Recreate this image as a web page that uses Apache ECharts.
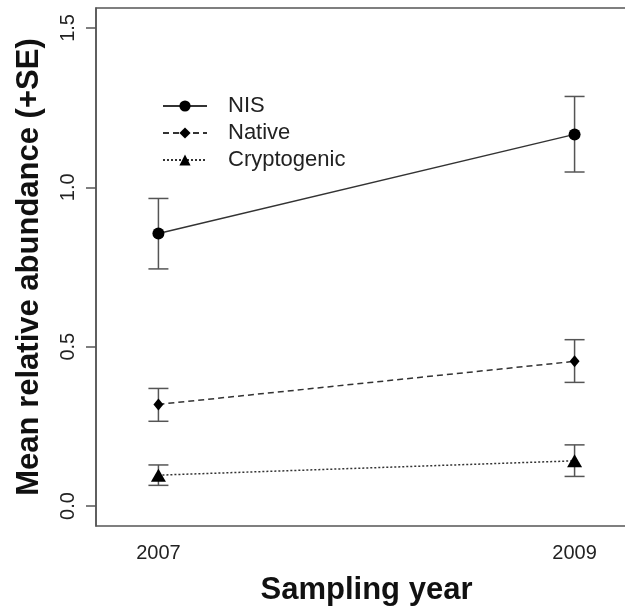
<!DOCTYPE html>
<html>
<head>
<meta charset="utf-8">
<script src="https://cdn.jsdelivr.net/npm/echarts@6/dist/echarts.min.js"></script>
<style>
html,body{margin:0;padding:0;background:#fff;overflow:hidden;width:625px;height:611px;}
#chart{width:645px;height:611px;}
</style>
</head>
<body>
<div id="chart"></div>
<script>
// Data
var years = [2007, 2009];
var xTickLabels = [2007, 2009];
var yTickValues = [0, 0.5, 1.0, 1.5];

var nisMean = [0.855, 1.166];
var nisLow = [0.744, 1.048];
var nisHigh = [0.965, 1.285];

var nativeMean = [0.319, 0.454];
var nativeLow = [0.266, 0.388];
var nativeHigh = [0.369, 0.522];

var cryptoMean = [0.097, 0.142];
var cryptoLow = [0.065, 0.093];
var cryptoHigh = [0.129, 0.192];

var FONT = 'Liberation Sans, Arial, Helvetica, sans-serif';
var LINE = '#333333';
var BAR = '#555555';

function pts(mean) { return years.map(function (y, i) { return [y, mean[i]]; }); }
function bars(lo, hi) { return years.map(function (y, i) { return [y, lo[i], hi[i]]; }); }

function errRender(params, api) {
  var x = api.value(0);
  var lo = api.coord([x, api.value(1)]);
  var hi = api.coord([x, api.value(2)]);
  var hw = 10;
  var st = { stroke: BAR, lineWidth: 1.5 };
  return {
    type: 'group',
    children: [
      { type: 'line', shape: { x1: lo[0], y1: lo[1], x2: hi[0], y2: hi[1] }, style: st },
      { type: 'line', shape: { x1: lo[0] - hw, y1: lo[1], x2: lo[0] + hw, y2: lo[1] }, style: st },
      { type: 'line', shape: { x1: hi[0] - hw, y1: hi[1], x2: hi[0] + hw, y2: hi[1] }, style: st }
    ]
  };
}

var chart = echarts.init(document.getElementById('chart'), null, { renderer: 'canvas' });
chart.setOption({
  backgroundColor: '#ffffff',
  animation: false,
  textStyle: { fontFamily: FONT },
  grid: {
    left: 96, top: 8, width: 541, height: 520,
    show: true, borderColor: '#555555', borderWidth: 1.5, backgroundColor: 'transparent'
  },
  legend: {
    orient: 'vertical',
    left: 157, top: 90,
    itemWidth: 44, itemHeight: 14, itemGap: 5,
    data: ['NIS', 'Native', 'Cryptogenic'],
    textStyle: { fontSize: 22, color: '#222', fontFamily: FONT, lineHeight: 22, padding: [0, 0, 0, 16] }
  },
  xAxis: {
    type: 'value',
    min: 2006.7, max: 2009.3,
    axisLine: { show: false },
    axisTick: { show: false },
    splitLine: { show: false },
    axisLabel: {
      customValues: xTickLabels,
      formatter: function (v) { return String(v); },
      fontSize: 20, color: '#222', margin: 17, fontFamily: FONT
    },
    name: 'Sampling year',
    nameLocation: 'middle',
    nameGap: 49,
    nameTextStyle: { fontSize: 31, fontWeight: 'bold', color: '#111', fontFamily: FONT }
  },
  yAxis: {
    type: 'value',
    min: -0.0625, max: 1.5625,
    axisLine: { show: true, lineStyle: { color: '#555555', width: 1.5 } },
    axisTick: { show: true, customValues: yTickValues, length: 10, lineStyle: { color: '#555555', width: 1.5 } },
    splitLine: { show: false },
    axisLabel: {
      customValues: yTickValues,
      rotate: 90,
      formatter: function (v) { return v.toFixed(1); },
      fontSize: 20, color: '#222', margin: 18, fontFamily: FONT
    },
    name: 'Mean relative abundance (+SE)',
    nameLocation: 'middle',
    nameRotate: 90,
    nameGap: 51,
    nameTextStyle: { fontSize: 31, fontWeight: 'bold', color: '#111', fontFamily: FONT }
  },
  series: [
    {
      name: 'NIS', type: 'line', data: pts(nisMean),
      symbol: 'circle', symbolSize: 12,
      lineStyle: { color: LINE, width: 1.5, type: 'solid' },
      itemStyle: { color: '#000' }, z: 5
    },
    {
      name: 'Native', type: 'line', data: pts(nativeMean),
      symbol: 'diamond', symbolSize: [10, 12],
      lineStyle: { color: LINE, width: 1.5, type: [6, 4] },
      itemStyle: { color: '#000' }, z: 5
    },
    {
      name: 'Cryptogenic', type: 'line', data: pts(cryptoMean),
      symbol: 'triangle', symbolSize: [15, 13],
      lineStyle: { color: LINE, width: 1.5, type: [2, 2] },
      itemStyle: { color: '#000' }, z: 5
    },
    { type: 'custom', renderItem: errRender, data: bars(nisLow, nisHigh), encode: { x: 0, y: [1, 2] }, z: 3, silent: true },
    { type: 'custom', renderItem: errRender, data: bars(nativeLow, nativeHigh), encode: { x: 0, y: [1, 2] }, z: 3, silent: true },
    { type: 'custom', renderItem: errRender, data: bars(cryptoLow, cryptoHigh), encode: { x: 0, y: [1, 2] }, z: 3, silent: true }
  ]
});
</script>
</body>
</html>
